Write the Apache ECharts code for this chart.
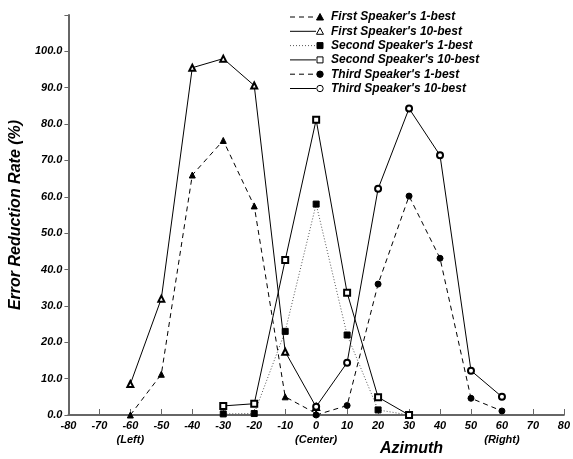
<!DOCTYPE html>
<html>
<head>
<meta charset="UTF-8">
<title>Error Reduction Rate by Azimuth</title>
<script src="https://cdn.jsdelivr.net/npm/echarts@6/dist/echarts.min.js"></script>
<style>
  html, body { margin: 0; padding: 0; background: #fff; }
  #chart { width: 573px; height: 459px; }
</style>
</head>
<body>
<div id="chart"></div>
<script type="text/javascript">

  // data (azimuth in degrees, error reduction in %)
  var firstX = [-60, -50, -40, -30, -20, -10, 0];
  var first1best = [0, 11.2, 66, 75.5, 57.5, 5, 0.4];
  var first10best = [8.5, 32, 95.5, 98, 90.6, 17.4, 2.2];

  var secondX = [-30, -20, -10, 0, 10, 20, 30];
  var second1best = [0.3, 0.4, 23, 58, 22, 1.4, 0];
  var second10best = [2.5, 3.1, 42.6, 81.2, 33.6, 4.9, 0];

  var thirdX = [0, 10, 20, 30, 40, 50, 60];
  var third1best = [0, 2.6, 36, 60.2, 43.1, 4.6, 1.1];
  var third10best = [2.3, 14.4, 62.2, 84.3, 71.4, 12.2, 5];

  var xSubLabels = { '-60': '(Left)', '0': '(Center)', '60': '(Right)' };

  var names = [
    "First Speaker's 1-best",
    "First Speaker's 10-best",
    "Second Speaker's 1-best",
    "Second Speaker's 10-best",
    "Third Speaker's 1-best",
    "Third Speaker's 10-best"
  ];
  var symbols = ['triangle', 'emptyTriangle', 'rect', 'emptyRect', 'circle', 'emptyCircle'];
  var dashes = [[5, 4], 'solid', [1, 2], 'solid', [5, 4], 'solid'];
  var lineColors = ['#000', '#000', '#555', '#000', '#000', '#000'];

  function pairs(xs, ys) {
    var out = [];
    for (var i = 0; i < xs.length; i++) out.push([xs[i], ys[i]]);
    return out;
  }

  function makeSeries(i, data) {
    return {
      name: names[i],
      type: 'line',
      data: data,
      symbol: symbols[i],
      symbolSize: 6,
      showAllSymbol: true,
      lineStyle: { color: lineColors[i], width: 1, type: dashes[i] },
      itemStyle: { color: '#000', borderColor: '#000', borderWidth: 1 },
      emphasis: { disabled: true },
      animation: false
    };
  }

  var font = 'Liberation Sans, Arial, sans-serif';

  // legend drawn by hand so the marker sits at the right end of the sample line
  function legendItem(i) {
    var y = 17 + i * 14.3;
    var kids = [{
      type: 'line',
      shape: { x1: 290, y1: y, x2: 316, y2: y },
      style: { stroke: lineColors[i], lineWidth: 1, lineDash: dashes[i] === 'solid' ? null : dashes[i] }
    }];
    var empty = symbols[i].indexOf('empty') === 0;
    var st = { fill: empty ? '#fff' : '#000', stroke: '#000', lineWidth: 1 };
    var cx = 320;
    if (symbols[i].toLowerCase().indexOf('triangle') >= 0) {
      kids.push({ type: 'polygon', shape: { points: [[cx, y - 3.5], [cx + 3.5, y + 3], [cx - 3.5, y + 3]] }, style: st });
    } else if (symbols[i].toLowerCase().indexOf('rect') >= 0) {
      kids.push({ type: 'rect', shape: { x: cx - 3, y: y - 3, width: 6, height: 6 }, style: st });
    } else {
      kids.push({ type: 'circle', shape: { cx: cx, cy: y, r: 3.2 }, style: st });
    }
    kids.push({
      type: 'text',
      x: 331, y: y,
      style: { text: names[i], font: 'italic bold 12px ' + font, fill: '#000', verticalAlign: 'middle' }
    });
    return { type: 'group', children: kids };
  }

  var graphics = [];
  for (var k = 0; k < names.length; k++) graphics.push(legendItem(k));
  graphics.push({
    type: 'text',
    left: 380,
    top: 441,
    style: { text: 'Azimuth', font: 'italic bold 16px ' + font, fill: '#000' }
  });

  var myChart = echarts.init(document.getElementById('chart'));

  var option = {
    backgroundColor: '#fff',
    animation: false,
    grid: { left: 66, right: 7, top: 15, bottom: 44 },
    xAxis: {
      type: 'value',
      min: -80,
      max: 80,
      interval: 10,
      splitLine: { show: false },
      axisLine: { onZero: false, lineStyle: { color: '#666', width: 2 } },
      axisTick: { inside: true, length: 6, lineStyle: { color: '#666', width: 1 } },
      axisLabel: {
        margin: 4,
        fontFamily: font, fontWeight: 'bold', fontStyle: 'italic', fontSize: 11, color: '#000',
        lineHeight: 14,
        formatter: function (v) {
          var sub = xSubLabels[String(v)];
          return sub ? v + '\n' + sub : String(v);
        }
      }
    },
    yAxis: {
      type: 'value',
      min: 0,
      max: 110,
      interval: 10,
      name: 'Error Reduction Rate (%)',
      nameLocation: 'middle',
      nameGap: 42,
      nameTextStyle: { fontFamily: font, fontWeight: 'bold', fontStyle: 'italic', fontSize: 16, color: '#000' },
      splitLine: { show: false },
      axisLine: { show: true, onZero: false, lineStyle: { color: '#666', width: 2 } },
      axisTick: { show: true, length: 4, lineStyle: { color: '#666', width: 1 } },
      axisLabel: {
        margin: 6,
        fontFamily: font, fontWeight: 'bold', fontStyle: 'italic', fontSize: 11, color: '#000',
        formatter: function (v) { return v > 100 ? '' : v.toFixed(1); }
      }
    },
    graphic: graphics,
    series: [
      makeSeries(0, pairs(firstX, first1best)),
      makeSeries(1, pairs(firstX, first10best)),
      makeSeries(2, pairs(secondX, second1best)),
      makeSeries(3, pairs(secondX, second10best)),
      makeSeries(4, pairs(thirdX, third1best)),
      makeSeries(5, pairs(thirdX, third10best))
    ]
  };

  myChart.setOption(option);

</script>
</body>
</html>
